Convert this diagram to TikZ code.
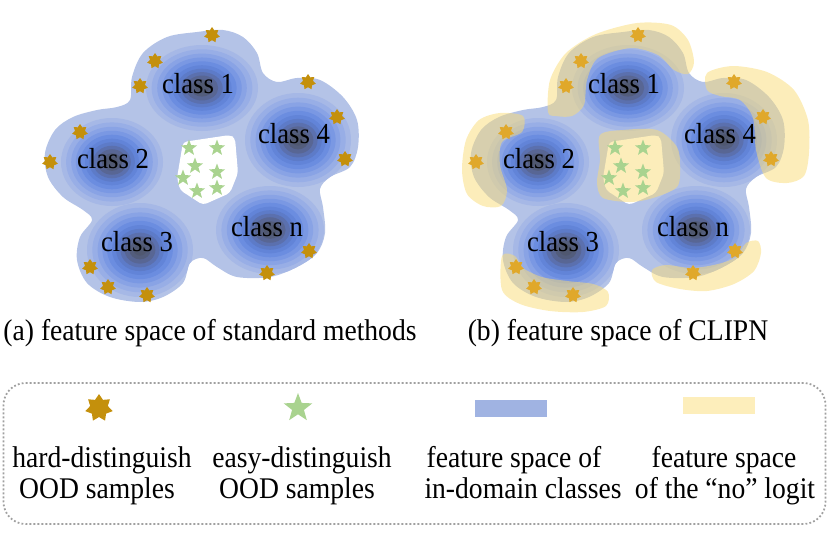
\documentclass[tikz,border=0pt]{standalone}
\usepackage{fontspec}
\setmainfont{Liberation Serif}[FakeStretch=0.92]
\usetikzlibrary{shapes.geometric}
\definecolor{blobc}{HTML}{B4C3E7}
\definecolor{r1}{HTML}{A6B8E6}
\definecolor{r2}{HTML}{98AEE6}
\definecolor{r3}{HTML}{89A3E5}
\definecolor{r4}{HTML}{7A98E3}
\definecolor{r5}{HTML}{6B8DE0}
\definecolor{r6}{HTML}{6284D8}
\definecolor{r7}{HTML}{5D7BC8}
\definecolor{r8}{HTML}{5B70AE}
\definecolor{r9}{HTML}{586694}
\definecolor{r10}{HTML}{535D7C}
\definecolor{r11}{HTML}{505870}
\definecolor{goldL}{HTML}{C4900C}
\definecolor{goldR}{HTML}{E0A82A}
\definecolor{greenS}{HTML}{A9D38F}
\definecolor{noyel}{RGB}{250,220,118}
\definecolor{legblue}{HTML}{A0B3E2}
\definecolor{legyel}{HTML}{FDEEBB}
\definecolor{legline}{HTML}{A0A0A0}

\newcommand{\outerblob}[1]{\path[#1] plot[smooth cycle, tension=0.55] coordinates {
 (257,53) (263,73) (277,82) (297,78) (320,80) (343,97) (357,120) (358,147) (350,167)
 (330,177) (320,189) (323,207) (325,233) (317,253) (297,267) (270,277) (237,277) (217,267)
 (203,258) (190,263) (183,283) (163,297) (140,302) (110,297) (87,283) (77,260) (80,237)
 (92,220) (83,210) (63,197) (48,177) (45,153) (55,130) (73,117) (97,110) (117,107) (130,100)
 (132,77) (143,53) (167,37) (197,32) (223,30) (243,37)};}

\newcommand{\classrings}[4]{%
 \foreach \f/\c in {1/r1, 0.9/r2, 0.8/r3, 0.71/r4, 0.62/r5, 0.53/r6, 0.45/r7, 0.37/r8, 0.29/r9, 0.2/r10, 0.12/r11} {
   \fill[\c] (#1,#2) ellipse [x radius={\f*#3pt}, y radius={\f*#4pt}];
 }}

\newcommand{\basespace}{%
 \outerblob{fill=blobc}
 \begin{scope}
  \outerblob{clip}
  \classrings{202}{88}{56}{43}
  \classrings{298}{140}{53}{47}
  \classrings{112}{162}{51}{44}
  \classrings{140}{250}{53}{47}
  \classrings{270}{230}{54}{44}
 \end{scope}
 \fill[white, rounded corners=4pt] (183,142) -- (230,135) -- (235,138) -- (238,173) -- (230,193)
   -- (203,205) -- (180,190) -- (177,178) -- cycle;}

\newcommand{\greenstars}{%
 \foreach \p [count=\i] in {(189,148),(217,148),(195,166),(217,172),(183,178),(197,191),(217,188)}
   \node[easystar] (g\i) at \p {};}

\newcommand{\goldstars}[1]{%
 \foreach \p [count=\i] in {(212,35),(155,61),(140,86),(80,132),(50,162),(308,82),(337,117),
   (345,159),(309,251),(267,273),(90,267),(108,287),(147,295)}
   \node[hardstar, fill=#1] (h\i) at \p {};}

\newcommand{\classlabels}{%
 \node[lab, font=\fontsize{29}{30}\selectfont] (c1) at (198,93) {class 1};
 \node[lab, font=\fontsize{29}{30}\selectfont] (c4) at (294,143) {class 4};
 \node[lab, font=\fontsize{29}{30}\selectfont] (c2) at (113,168) {class 2};
 \node[lab, font=\fontsize{29}{30}\selectfont] (c3) at (137,251) {class 3};
 \node[lab, font=\fontsize{29}{30}\selectfont] (cn) at (267,236) {class n};}

\begin{document}
\begin{tikzpicture}[x=1pt, y=-1pt,
  lab/.style={font=\fontsize{30}{31}\selectfont, inner sep=0pt, anchor=base},
  hardstar/.style={star, star points=7, star point ratio=1.55, minimum size=16pt, inner sep=0pt, draw=none},
  easystar/.style={star, star points=5, star point ratio=2.4, minimum size=17pt, inner sep=0pt, draw=none, fill=greenS},
  yband/.style={fill=noyel, fill opacity=0.5}]
\useasboundingbox (0,0) rectangle (829,533);

% (a) standard methods
\begin{scope}[name prefix=L-]
 \basespace
 \greenstars
 \goldstars{goldL}
 \classlabels
\end{scope}

% (b) CLIPN
\begin{scope}[shift={(426,0)}, name prefix=R-]
 \basespace
 \fill[yband] plot[smooth cycle, tension=0.5] coordinates {(122,112) (124,80) (140,53) (170,34) (211,23) (245,25) (262,40) (268,62) (262,74) (248,70) (232,55) (205,48) (172,58) (161,80) (158,105) (146,116) (130,116)};
 \fill[yband] plot[smooth cycle, tension=0.5] coordinates {(281,73) (307,66) (341,72) (368,90) (382,120) (383,153) (378,176) (361,183) (340,178) (330,150) (327,118) (314,100) (294,96) (281,90)};
 \fill[yband] plot[smooth cycle, tension=0.5] coordinates {(97,116) (74,113) (53,120) (40,140) (36,170) (41,194) (57,206) (75,206) (81,190) (74,165) (76,142) (96,132)};
 \fill[yband] plot[smooth cycle, tension=0.5] coordinates {(76,256) (76,290) (94,304) (124,311) (157,312) (180,306) (182,292) (167,284) (141,281) (116,277) (97,268) (89,256)};
 \fill[yband] plot[smooth cycle, tension=0.5] coordinates {(226,270) (230,282) (254,289) (281,291) (308,284) (328,271) (335,253) (332,241) (320,243) (310,257) (292,264) (266,268) (240,265)};
 \fill[yband] plot[smooth cycle, tension=0.5] coordinates {(174,135) (197,130) (231,130) (251,147) (254,167) (251,187) (227,198) (204,202) (177,198) (171,183) (174,160)};
 \greenstars
 \goldstars{goldR}
 \classlabels
\end{scope}

% captions
\node[lab] (capa) at (210,340) {(a) feature space of standard methods};
\node[lab] (capb) at (618,340) {(b) feature space of CLIPN};

% legend
\node[draw=legline, line width=1.8pt, dash pattern=on 1.8pt off 2.2pt, rounded corners=22pt,
  minimum width=822pt, minimum height=141pt, inner sep=0pt] (legend) at (414.5,453.5) {};
\node[hardstar, fill=goldL, minimum size=28pt] (k1) at (99,408) {};
\node[easystar, minimum size=30pt] (k2) at (298,408) {};
\node[fill=legblue, minimum width=72pt, minimum height=17pt, inner sep=0pt] (k3) at (511,408.5) {};
\node[fill=legyel, minimum width=72pt, minimum height=17pt, inner sep=0pt] (k4) at (719,405.5) {};
\node[lab] (t1a) at (102,467) {hard-distinguish};
\node[lab] (t1b) at (97,498) {OOD samples};
\node[lab] (t2a) at (302,467) {easy-distinguish};
\node[lab] (t2b) at (297,498) {OOD samples};
\node[lab] (t3a) at (514,467) {feature space of};
\node[lab] (t3b) at (523,498) {in-domain classes};
\node[lab] (t4a) at (724,467) {feature space};
\node[lab] (t4b) at (725,498) {of the “no” logit};
\end{tikzpicture}
\end{document}
